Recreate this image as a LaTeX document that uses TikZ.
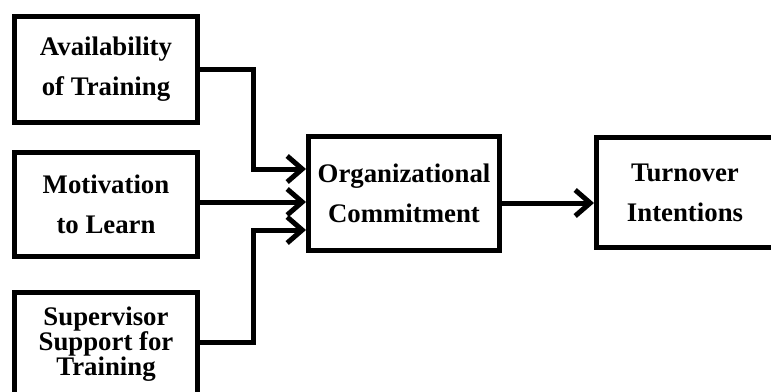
\documentclass[tikz,border=0pt]{standalone}
\usepackage{fontspec}
\setmainfont{Liberation Serif}
\usetikzlibrary{arrows.meta}

\begin{document}
\begin{tikzpicture}[x=0.5pt, y=-0.5pt, line width=2.5pt,
    font=\bfseries\fontsize{13.4}{20}\selectfont,
    box/.style={draw, align=center, inner sep=0pt, minimum width=91.5pt, minimum height=53pt},
    >={Straight Barb[length=7.5pt, width=13pt]}]
    \useasboundingbox (0, 0) rectangle (771, 391);
    \clip (0, 0) rectangle (771, 391);

    \node (avail) [box] at (106, 69.5) {Availability\\of Training};
    \node (motiv) [box, minimum height=52pt] at (106, 204.5) {Motivation\\to Learn};
    \node (super) [box, minimum height=52pt, font=\bfseries\fontsize{13.4}{12.5}\selectfont] at (106, 344) {Supervisor\\Support for\\Training};
    \node (org) [box, minimum width=95.5pt, minimum height=57pt] at (404, 193.5) {Organizational\\Commitment};
    \node (turn) [box, minimum width=88.5pt, minimum height=55pt] at (685, 192.5) {Turnover\\Intentions};

    \draw[->] (avail.east |- 0, 69) -| (253, 169) -- (org.west |- 0, 169);
    \draw[->] (motiv.east |- 0, 202) -- (org.west |- 0, 202);
    \draw[->] (super.east |- 0, 342) -| (253, 230) -- (org.west |- 0, 230);
    \draw[->] (org.east |- 0, 203) -- (turn.west |- 0, 203);
\end{tikzpicture}
\end{document}
